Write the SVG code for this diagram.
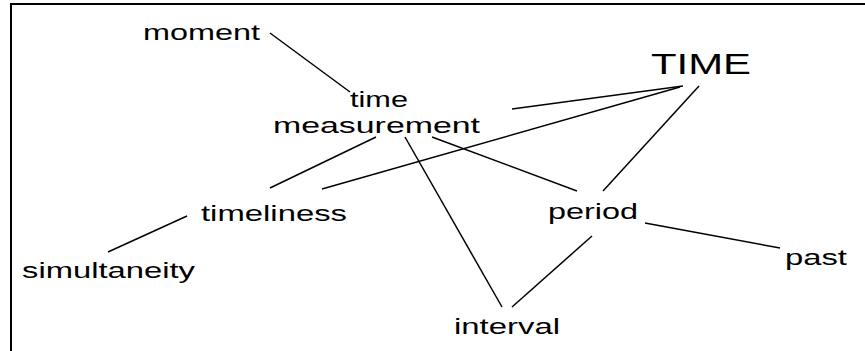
<svg xmlns="http://www.w3.org/2000/svg" width="865" height="351" viewBox="0 0 865 351">
<style>
text{font-family:"Liberation Sans",Arial,sans-serif;font-size:22px;fill:#000}
.big{font-size:29px}
#connectors line{stroke:#000;stroke-width:1.5}
</style>
<rect width="865" height="351" fill="#fff"/>
<path d="M11,351 V4 H865" fill="none" stroke="#000" stroke-width="2"/>
<g id="connectors">
<line x1="270" y1="33" x2="350" y2="92"/>
<line x1="512" y1="109" x2="683" y2="86"/>
<line x1="680" y1="87" x2="322" y2="189"/>
<line x1="699" y1="86" x2="603" y2="191"/>
<line x1="376" y1="137" x2="270" y2="188"/>
<line x1="405" y1="137" x2="502" y2="307"/>
<line x1="432" y1="137" x2="577" y2="191"/>
<line x1="108" y1="252" x2="187" y2="216"/>
<line x1="645" y1="223" x2="780" y2="248"/>
<line x1="592" y1="236" x2="512" y2="307"/>
</g>
<g id="moment"><text x="143" y="40" textLength="117" lengthAdjust="spacingAndGlyphs">moment</text></g>
<g id="time-measurement"><text x="350" y="107" textLength="58" lengthAdjust="spacingAndGlyphs">time</text><text x="273" y="133" textLength="207" lengthAdjust="spacingAndGlyphs">measurement</text></g>
<g id="TIME"><text class="big" x="651" y="74" textLength="100" lengthAdjust="spacingAndGlyphs">TIME</text></g>
<g id="timeliness"><text x="201" y="221" textLength="146" lengthAdjust="spacingAndGlyphs">timeliness</text></g>
<g id="simultaneity"><text x="22" y="278" textLength="173" lengthAdjust="spacingAndGlyphs">simultaneity</text></g>
<g id="period"><text x="548" y="219" textLength="90" lengthAdjust="spacingAndGlyphs">period</text></g>
<g id="past"><text x="785" y="265" textLength="62" lengthAdjust="spacingAndGlyphs">past</text></g>
<g id="interval"><text x="454" y="334" textLength="106" lengthAdjust="spacingAndGlyphs">interval</text></g>
</svg>
